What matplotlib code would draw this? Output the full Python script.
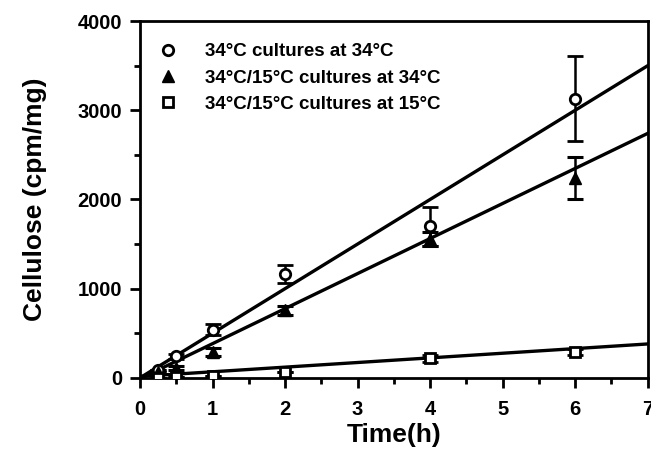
import numpy as np
import matplotlib.pyplot as plt

plt.rcParams['font.family'] = ['Liberation Sans', 'DejaVu Sans']
plt.rcParams['font.weight'] = 'bold'

# data
time_h = [0.25, 0.5, 1, 2, 4, 6]

warm_at_34 = [90, 240, 540, 1165, 1700, 3130]
warm_at_34_err = [0, 30, 60, 100, 220, 480]

shift_at_34 = [60, 110, 290, 760, 1560, 2240]
shift_at_34_err = [0, 20, 40, 50, 80, 240]

shift_at_15 = [0, 10, 20, 70, 220, 290]
shift_at_15_err = [0, 0, 0, 0, 40, 30]

# regression lines (slope, intercept)
fit_warm_34 = (500, 0)
fit_shift_34 = (393, -10)
fit_shift_15 = (52, 16)

fig = plt.figure(figsize=(6.51, 4.58), dpi=100)
ax = fig.add_axes([0.215, 0.175, 0.78, 0.779])

t_line = np.array([0.0, 7.0])
for slope, icpt in (fit_warm_34, fit_shift_34, fit_shift_15):
    ax.plot(t_line, slope * t_line + icpt, color='black', lw=2.4, zorder=2)

ekw = dict(ecolor='black', elinewidth=1.8, capsize=6, capthick=2.2, ls='none', zorder=3)
ax.errorbar(time_h, warm_at_34, yerr=warm_at_34_err, marker='o', ms=7.5,
            mfc='white', mec='black', mew=2, label='34°C cultures at 34°C', **ekw)
ax.errorbar(time_h, shift_at_34, yerr=shift_at_34_err, marker='^', ms=8.5,
            mfc='black', mec='black', label='34°C/15°C cultures at 34°C', **ekw)
ax.errorbar(time_h, shift_at_15, yerr=shift_at_15_err, marker='s', ms=7.5,
            mfc='white', mec='black', mew=2, label='34°C/15°C cultures at 15°C', **ekw)

ax.set_xlim(0, 7)
ax.set_ylim(0, 4000)
ax.set_xticks(range(0, 8))
ax.set_xticks(np.arange(0.5, 7, 1), minor=True)
ax.set_yticks(range(0, 4001, 1000))
ax.set_yticks(range(500, 4000, 1000), minor=True)
ax.tick_params(which='both', direction='out', width=2, labelsize=14.5)
ax.tick_params(axis='x', pad=9)
ax.tick_params(axis='y', pad=6)
ax.tick_params(which='major', length=7)
ax.tick_params(which='minor', length=4)
for lab in ax.get_xticklabels() + ax.get_yticklabels():
    lab.set_fontweight('bold')
for sp in ax.spines.values():
    sp.set_linewidth(2)

ax.set_xlabel('Time(h)', fontsize=19, fontweight='bold', labelpad=3)
ax.set_ylabel('Cellulose (cpm/mg)', fontsize=19, fontweight='bold', labelpad=22)

handles, labels = ax.get_legend_handles_labels()
handles = [h[0] for h in handles]
leg = ax.legend(handles, labels, loc='upper left', frameon=False,
                handletextpad=1.35, labelspacing=0.48, handlelength=1.2,
                bbox_to_anchor=(0.0, 0.985),
                prop={'weight': 'bold', 'size': 13.5})

fig.savefig('out.png', dpi=100)
